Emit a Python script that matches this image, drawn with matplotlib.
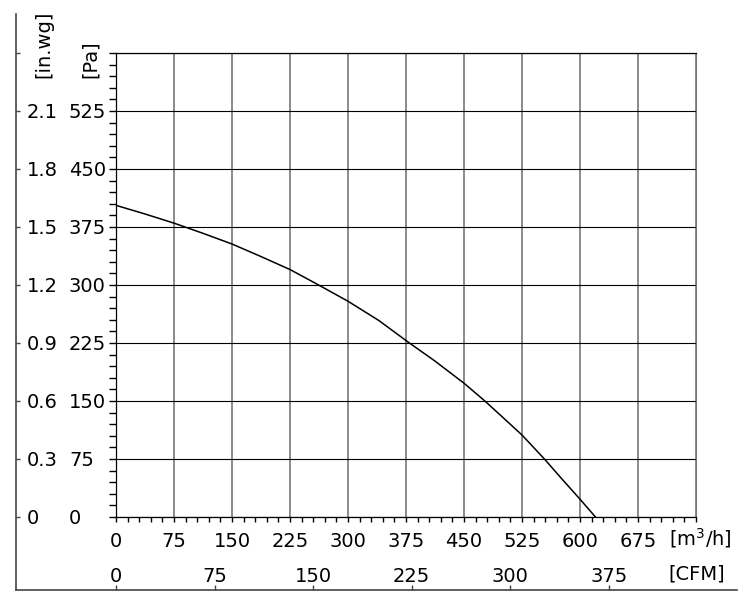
import matplotlib
matplotlib.use("Agg")
import matplotlib.pyplot as plt
from matplotlib.transforms import blended_transform_factory, ScaledTranslation

# fan curve
flow_m3h = [0, 37, 75, 112, 150, 187, 225, 262, 300, 340, 378, 412, 450, 477, 500, 525, 554, 575, 600, 620]
pressure_pa = [403, 392, 380, 367, 353, 337, 320, 300, 279, 254, 226, 202, 173, 150, 129, 106, 75, 51, 23, 0]

m3h_ticks = [0, 75, 150, 225, 300, 375, 450, 525, 600, 675]
cfm_ticks = [0, 75, 150, 225, 300, 375]
pa_ticks = [0, 75, 150, 225, 300, 375, 450, 525]
inwg_labels = ["0", "0.3", "0.6", "0.9", "1.2", "1.5", "1.8", "2.1"]
CFM_TO_M3H = 1.699

W, H = 751, 605
FS = 14


def fx(px):
    return px / W


def fy(py):
    return 1 - py / H


fig = plt.figure(figsize=(W / 100, H / 100), dpi=100)

# plot box in pixels
L, R, T, B = 116, 696, 53, 517
xmax, ymax = 750, 600
sx = (R - L) / xmax
sy = (B - T) / ymax

# outer frame (left/bottom lines with small ticks)
oL, oR, oT, oB = 16, 737, 14, 590
ax0 = fig.add_axes([fx(oL), fy(oB), (oR - oL) / W, (oB - oT) / H])
ax0.set_xlim((oL - L) / sx, (oR - L) / sx)
ax0.set_ylim((B - oB) / sy, (B - oT) / sy)
for s in ["top", "right"]:
    ax0.spines[s].set_visible(False)
for s in ["left", "bottom"]:
    ax0.spines[s].set_color("#444444")
    ax0.spines[s].set_linewidth(1.2)
ax0.set_xticks([c * CFM_TO_M3H for c in cfm_ticks], labels=[])
ax0.set_yticks(pa_ticks + [600], labels=[])
ax0.tick_params(axis="x", direction="in", length=3.6, width=1, color="#444444")
ax0.tick_params(axis="y", direction="in", length=3, width=1, color="#444444")

# main plot
ax = fig.add_axes([fx(L), fy(B), (R - L) / W, (B - T) / H])
ax.set_xlim(0, xmax)
ax.set_ylim(0, ymax)
ax.set_xticks(list(range(0, 751, 75)), labels=[])
ax.set_xticks(list(range(0, 751, 15)), minor=True)
ax.set_yticks(list(range(0, 601, 75)), labels=[])
ax.set_yticks(list(range(0, 601, 15)), minor=True)
ax.tick_params(axis="x", which="both", direction="out", length=3.6, width=1, color="black")
ax.tick_params(axis="y", which="both", direction="out", length=5, width=1, color="black")
ax.grid(axis="x", which="major", color="#777777", linewidth=1.2)
ax.grid(axis="y", which="major", color="black", linewidth=0.8)
ax.spines["right"].set_color("#777777")
for s in ["left", "top", "bottom"]:
    ax.spines[s].set_color("black")
    ax.spines[s].set_linewidth(0.9)

ax.plot(flow_m3h, pressure_pa, color="black", linewidth=1.1, zorder=5)

# y labels: in.wg and Pa columns
ytrans = blended_transform_factory(fig.transFigure, ax.transData) + ScaledTranslation(
    0, -0.07, fig.dpi_scale_trans
)
for pa, iw in zip(pa_ticks, inwg_labels):
    ax.text(fx(27), pa, iw, transform=ytrans, ha="left", va="baseline", fontsize=FS)
    ax.text(fx(69), pa, str(pa), transform=ytrans, ha="left", va="baseline", fontsize=FS)

# x labels: m3/h and CFM rows
xtrans = blended_transform_factory(ax.transData, fig.transFigure)
for v in m3h_ticks:
    ax.text(v, fy(547), str(v), transform=xtrans, ha="center", va="baseline", fontsize=FS)
for c in cfm_ticks:
    ax.text(c * CFM_TO_M3H, fy(582), str(c), transform=xtrans, ha="center", va="baseline", fontsize=FS)

fig.text(fx(669), fy(545), r"[m$^3$/h]", ha="left", va="baseline", fontsize=FS)
fig.text(fx(668), fy(580), "[CFM]", ha="left", va="baseline", fontsize=FS)
fig.text(fx(44), fy(78), "[in.wg]", rotation=90, ha="center", va="bottom", fontsize=FS)
fig.text(fx(90), fy(78), "[Pa]", rotation=90, ha="center", va="bottom", fontsize=FS)

fig.savefig("out.png", dpi=100)
